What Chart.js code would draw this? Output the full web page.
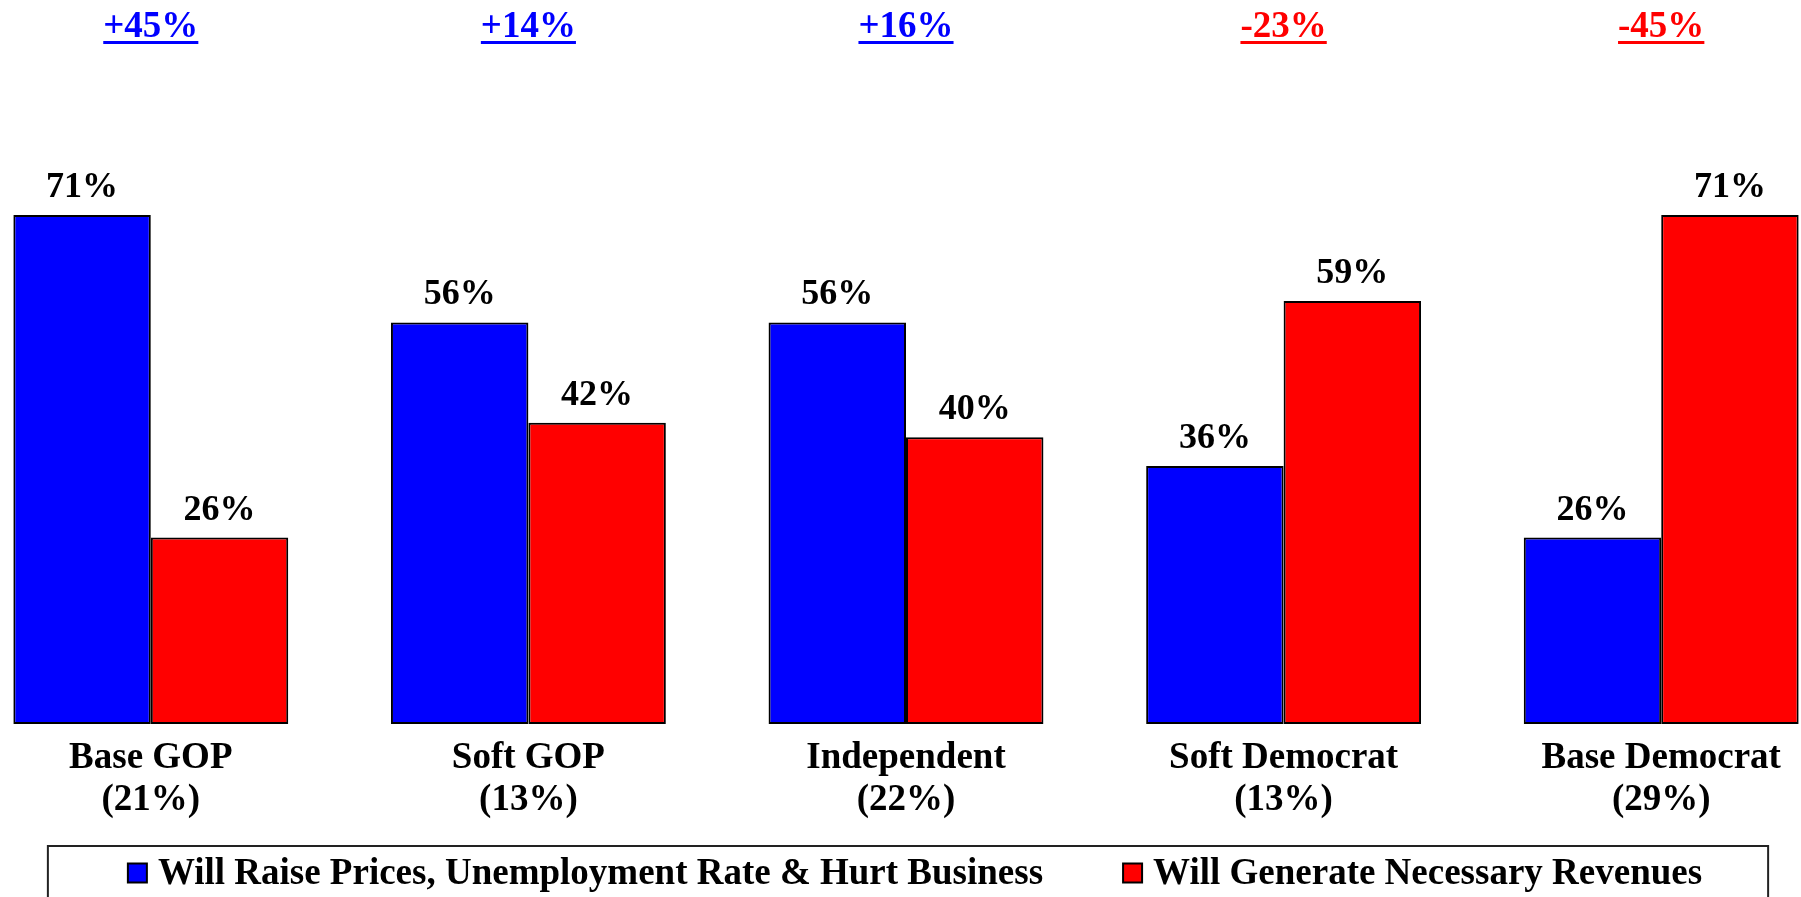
<!DOCTYPE html>
<html>
<head>
<meta charset="utf-8">
<title>Tax impact by party group</title>
<script src="https://cdn.jsdelivr.net/npm/chart.js@4.4.0/dist/chart.umd.min.js"></script>
<style>
  html, body { margin: 0; padding: 0; background: #fff; overflow: hidden; }
  #wrap { position: absolute; left: -38px; top: 0; width: 1888px; height: 902px; }
</style>
</head>
<body>
<div id="wrap"><canvas id="chart" width="1888" height="902"></canvas></div>
<script>
const groups = ['Base GOP', 'Soft GOP', 'Independent', 'Soft Democrat', 'Base Democrat'];
const groupShares = ['(21%)', '(13%)', '(22%)', '(13%)', '(29%)'];
const hurtBusiness = [71, 56, 56, 36, 26];
const necessaryRevenues = [26, 42, 40, 59, 71];
const netLabels = ['+45%', '+14%', '+16%', '-23%', '-45%'];
const netColors = ['#0000ff', '#0000ff', '#0000ff', '#ff0000', '#ff0000'];
const seriesNames = ['Will Raise Prices, Unemployment Rate & Hurt Business', 'Will Generate Necessary Revenues'];

const FONT = '"Liberation Serif", "Times New Roman", serif';

// value labels over bars + net difference on top
const barLabels = {
  id: 'barLabels',
  afterDatasetsDraw(chart) {
    const c = chart.ctx;
    c.save();
    c.font = 'bold 36px ' + FONT;
    c.fillStyle = '#000';
    c.textAlign = 'center';
    c.textBaseline = 'alphabetic';
    chart.data.datasets.forEach((ds, i) => {
      chart.getDatasetMeta(i).data.forEach((bar, j) => {
        c.fillText(ds.data[j] + '%', bar.x, bar.y - 18);
      });
    });

    c.font = 'bold 37px ' + FONT;
    netLabels.forEach((txt, j) => {
      const x = chart.scales.x.getPixelForValue(j);
      const w = c.measureText(txt).width;
      c.fillStyle = netColors[j];
      c.fillText(txt, x, 37);
      c.fillRect(x - w / 2, 41, w, 3);
    });
    c.restore();
  }
};

// boxed legend under the axis labels (built-in one can't space items like the original)
const boxedLegend = {
  id: 'boxedLegend',
  afterDraw(chart) {
    const c = chart.ctx;
    const sets = chart.data.datasets;
    const box = 19, textGap = 11, itemGap = 80;
    const cy = chart.scales.x.bottom + 49;
    c.save();
    c.font = 'bold 37px ' + FONT;
    const widths = sets.map(ds => c.measureText(ds.label).width);
    let total = 0;
    widths.forEach((w, i) => { total += box + textGap + w + (i ? itemGap : 0); });
    let x = 953 - total / 2;
    const startX = x;

    c.textBaseline = 'middle';
    c.textAlign = 'left';
    sets.forEach((ds, i) => {
      c.fillStyle = ds.backgroundColor;
      c.fillRect(x, cy - box / 2, box, box);
      c.strokeStyle = '#000';
      c.lineWidth = 2;
      c.strokeRect(x, cy - box / 2, box, box);
      c.fillStyle = '#000';
      c.fillText(ds.label, x + box + textGap, cy + 1);
      x += box + textGap + widths[i] + itemGap;
    });
    const endX = x - itemGap;

    c.strokeStyle = '#222';
    c.lineWidth = 2;
    const top = cy - 27;
    c.strokeRect(startX - 80, top, endX - startX + 146, chart.height - top + 10);
    c.restore();
  }
};

const ctx = document.getElementById('chart').getContext('2d');

new Chart(ctx, {
  type: 'bar',
  data: {
    labels: groups.map((g, i) => [g, groupShares[i]]),
    datasets: [
      {
        label: seriesNames[0],
        data: hurtBusiness,
        backgroundColor: '#0000ff',
        borderColor: '#000',
        borderWidth: 2,
        borderSkipped: false
      },
      {
        label: seriesNames[1],
        data: necessaryRevenues,
        backgroundColor: '#ff0000',
        borderColor: '#000',
        borderWidth: 2,
        borderSkipped: false
      }
    ]
  },
  options: {
    responsive: false,
    animation: false,
    devicePixelRatio: 1,
    layout: { padding: { top: 7, bottom: 78 } },
    datasets: {
      bar: { categoryPercentage: 0.728, barPercentage: 1 }
    },
    plugins: {
      tooltip: { enabled: false },
      legend: { display: false }
    },
    scales: {
      x: {
        grid: { display: false, drawTicks: false },
        border: { display: false },
        afterFit(scale) { scale.height = 100; },
        ticks: {
          color: '#000',
          padding: 13,
          maxRotation: 0,
          autoSkip: false,
          font: { family: FONT, size: 37, weight: 'bold', lineHeight: 1.15 }
        }
      },
      y: {
        display: false,
        min: 0,
        max: 100
      }
    }
  },
  plugins: [barLabels, boxedLegend]
});
</script>
</body>
</html>
